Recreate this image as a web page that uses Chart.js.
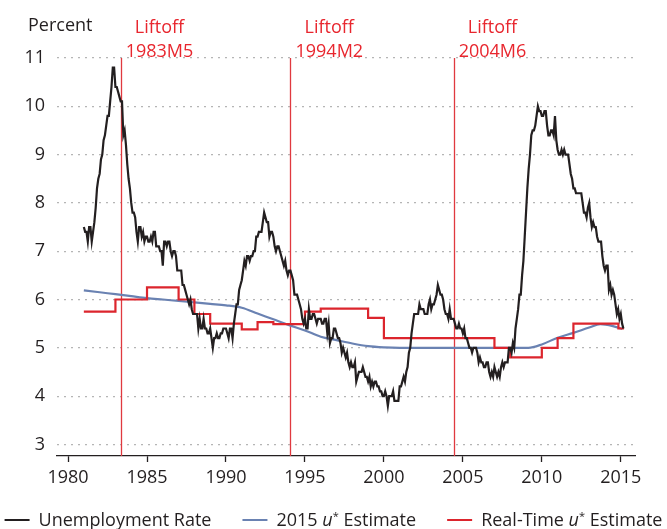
<!DOCTYPE html>
<html>
<head>
<meta charset="utf-8">
<script src="https://cdn.jsdelivr.net/npm/chart.js@4.4.1/dist/chart.umd.min.js"></script>
<style>
  html, body { margin: 0; padding: 0; background: #fff; }
  #wrap { width: 667px; height: 529px; }
</style>
</head>
<body>
<div id="wrap"><canvas id="chart" width="667" height="529"></canvas></div>
<script>
// monthly unemployment rate, first value is 1981M1
const unemploymentStart = 1981;
const unemploymentRate = [
  7.5, 7.4, 7.4, 7.2, 7.5, 7.5, 7.2, 7.4, 7.6, 7.9, 8.3, 8.5,
  8.6, 8.9, 9.0, 9.3, 9.4, 9.6, 9.8, 9.8, 10.1, 10.4, 10.8, 10.8,
  10.4, 10.4, 10.3, 10.2, 10.1, 10.1, 9.4, 9.5, 9.2, 8.8, 8.5, 8.3,
  8.0, 7.8, 7.8, 7.7, 7.4, 7.2, 7.5, 7.5, 7.3, 7.4, 7.2, 7.3,
  7.3, 7.2, 7.2, 7.3, 7.2, 7.4, 7.4, 7.1, 7.1, 7.1, 7.0, 7.0,
  6.7, 7.2, 7.2, 7.1, 7.2, 7.2, 7.0, 6.9, 7.0, 7.0, 6.9, 6.6,
  6.6, 6.6, 6.6, 6.3, 6.3, 6.2, 6.1, 6.0, 5.9, 6.0, 5.8, 5.7,
  5.7, 5.7, 5.7, 5.4, 5.6, 5.4, 5.4, 5.6, 5.4, 5.4, 5.3, 5.3,
  5.4, 5.2, 5.0, 5.2, 5.2, 5.3, 5.2, 5.2, 5.3, 5.3, 5.4, 5.4,
  5.4, 5.3, 5.2, 5.4, 5.4, 5.2, 5.5, 5.7, 5.9, 5.9, 6.2, 6.3,
  6.4, 6.6, 6.8, 6.7, 6.9, 6.9, 6.8, 6.9, 6.9, 7.0, 7.0, 7.3,
  7.3, 7.4, 7.4, 7.4, 7.6, 7.8, 7.7, 7.6, 7.6, 7.3, 7.4, 7.4,
  7.3, 7.1, 7.0, 7.1, 7.1, 7.0, 6.9, 6.8, 6.7, 6.8, 6.6, 6.5,
  6.6, 6.6, 6.5, 6.4, 6.1, 6.1, 6.1, 6.0, 5.9, 5.8, 5.6, 5.5,
  5.6, 5.4, 5.4, 5.8, 5.6, 5.6, 5.7, 5.7, 5.6, 5.5, 5.6, 5.6,
  5.6, 5.5, 5.5, 5.6, 5.6, 5.3, 5.5, 5.1, 5.2, 5.2, 5.4, 5.4,
  5.3, 5.2, 5.2, 5.1, 4.9, 5.0, 4.9, 4.8, 4.9, 4.7, 4.6, 4.7,
  4.6, 4.6, 4.7, 4.3, 4.4, 4.5, 4.5, 4.5, 4.6, 4.5, 4.4, 4.4,
  4.3, 4.4, 4.2, 4.3, 4.2, 4.3, 4.3, 4.2, 4.2, 4.1, 4.1, 4.0,
  4.0, 4.1, 4.0, 3.8, 4.0, 4.0, 4.0, 4.1, 3.9, 3.9, 3.9, 3.9,
  4.2, 4.2, 4.3, 4.4, 4.3, 4.5, 4.6, 4.9, 5.0, 5.3, 5.5, 5.7,
  5.7, 5.7, 5.7, 5.9, 5.8, 5.8, 5.8, 5.7, 5.7, 5.7, 5.9, 6.0,
  5.8, 5.9, 5.9, 6.0, 6.1, 6.3, 6.2, 6.1, 6.1, 6.0, 5.8, 5.7,
  5.7, 5.6, 5.8, 5.6, 5.6, 5.6, 5.5, 5.4, 5.4, 5.5, 5.4, 5.4,
  5.3, 5.4, 5.2, 5.2, 5.1, 5.0, 5.0, 4.9, 5.0, 5.0, 5.0, 4.9,
  4.7, 4.8, 4.7, 4.7, 4.6, 4.6, 4.7, 4.7, 4.5, 4.4, 4.5, 4.4,
  4.6, 4.5, 4.4, 4.5, 4.4, 4.6, 4.7, 4.6, 4.7, 4.7, 4.7, 5.0,
  5.0, 4.9, 5.1, 5.0, 5.4, 5.6, 5.8, 6.1, 6.1, 6.5, 6.8, 7.3,
  7.8, 8.3, 8.7, 9.0, 9.4, 9.5, 9.5, 9.6, 9.8, 10.0, 9.9, 9.9,
  9.8, 9.8, 9.9, 9.9, 9.6, 9.4, 9.4, 9.5, 9.5, 9.4, 9.8, 9.3,
  9.1, 9.0, 9.0, 9.1, 9.0, 9.1, 9.0, 9.0, 9.0, 8.8, 8.6, 8.5,
  8.3, 8.3, 8.2, 8.2, 8.2, 8.2, 8.2, 8.0, 7.8, 7.8, 7.7, 7.9,
  8.0, 7.7, 7.5, 7.6, 7.5, 7.5, 7.3, 7.2, 7.2, 7.2, 6.9, 6.7,
  6.6, 6.7, 6.7, 6.2, 6.3, 6.1, 6.2, 6.1, 5.9, 5.7, 5.8, 5.6,
  5.7, 5.5, 5.4
];

// 2015 u* estimate, read at these dates
const ustar2015Years = [1981, 1982, 1983, 1984, 1985, 1986, 1987, 1988, 1989, 1990, 1991, 1992, 1993, 1994, 1995, 1996, 1997, 1998, 1999, 2000, 2001, 2005, 2009.15, 2010, 2011, 2012, 2013, 2013.7, 2014.5, 2015.1];
const ustar2015Values = [6.19, 6.15, 6.11, 6.07, 6.03, 6.0, 5.97, 5.94, 5.91, 5.88, 5.83, 5.71, 5.59, 5.47, 5.36, 5.23, 5.16, 5.09, 5.035, 5.01, 5.0, 5.0, 5.0, 5.07, 5.21, 5.31, 5.42, 5.49, 5.45, 5.39];

// real-time u* estimate: each value holds from its date until the next date
const realTimeYears = [1981, 1983, 1985, 1987, 1988, 1989, 1991, 1992, 1993, 1995, 1996, 1999, 2000, 2007, 2008, 2010, 2011, 2012, 2014.85, 2015.2];
const realTimeValues = [5.75, 6.0, 6.25, 6.0, 5.7, 5.5, 5.38, 5.53, 5.49, 5.75, 5.81, 5.62, 5.2, 5.0, 4.8, 5.0, 5.2, 5.5, 5.4, 5.4];

const liftoffLabels = ['1983M5', '1994M2', '2004M6'];
const liftoffDates = [1983 + 4 / 12, 1994 + 1 / 12, 2004 + 5 / 12];

const seriesNames = ['Unemployment Rate', '2015 u* Estimate', 'Real-Time u* Estimate'];
const yTicks = [3, 4, 5, 6, 7, 8, 9, 10, 11];
const xTicks = [1980, 1985, 1990, 1995, 2000, 2005, 2010, 2015];

const BLACK = '#231f20';
const BLUE = '#6a82b2';
const RED = '#dc252d';
const FONT = '"Open Sans", "DejaVu Sans", sans-serif';
const FSIZE = 18;

const unemploymentPoints = unemploymentRate.map((v, i) => ({ x: unemploymentStart + i / 12, y: v }));
const ustarPoints = ustar2015Years.map((yr, i) => ({ x: yr, y: ustar2015Values[i] }));
const realTimePoints = realTimeYears.map((yr, i) => ({ x: yr, y: realTimeValues[i] }));

// draws a legend label, "u" in italics and "*" raised
function drawRich(ctx, text, x, y, measureOnly) {
  let cx = x;
  const parts = text.split(/(u\*)/);
  for (const p of parts) {
    if (p === 'u*') {
      ctx.font = 'italic ' + FSIZE + 'px ' + FONT;
      if (!measureOnly) ctx.fillText('u', cx, y);
      cx += ctx.measureText('u').width;
      ctx.font = (FSIZE - 7) + 'px ' + FONT;
      if (!measureOnly) ctx.fillText('*', cx, y - 6);
      cx += ctx.measureText('*').width;
    } else if (p) {
      ctx.font = FSIZE + 'px ' + FONT;
      if (!measureOnly) ctx.fillText(p, cx, y);
      cx += ctx.measureText(p).width;
    }
  }
  return cx - x;
}

const extras = {
  id: 'extras',
  beforeDatasetsDraw(chart) {
    const { ctx, chartArea, scales: { x } } = chart;
    ctx.save();
    ctx.strokeStyle = '#e0393f';
    ctx.lineWidth = 1.3;
    liftoffDates.forEach(d => {
      const px = Math.round(x.getPixelForValue(d)) + 0.5;
      ctx.beginPath();
      ctx.moveTo(px, chartArea.top);
      ctx.lineTo(px, chartArea.bottom);
      ctx.stroke();
    });
    ctx.restore();
  },
  afterDraw(chart) {
    const { ctx, scales: { x } } = chart;
    ctx.save();
    ctx.textBaseline = 'alphabetic';
    ctx.font = FSIZE + 'px ' + FONT;

    // axis title
    ctx.fillStyle = BLACK;
    ctx.textAlign = 'left';
    ctx.fillText('Percent', 28, 31);

    // liftoff labels
    ctx.fillStyle = '#e8262e';
    liftoffDates.forEach((d, i) => {
      const px = x.getPixelForValue(d);
      const w = ctx.measureText(liftoffLabels[i]).width;
      const cx = px + 5 + w / 2;
      ctx.textAlign = 'center';
      ctx.fillText('Liftoff', cx, 33);
      ctx.fillText(liftoffLabels[i], cx, 57);
    });

    // legend
    ctx.textAlign = 'left';
    const colors = [BLACK, BLUE, RED];
    const lineLen = 25, textGap = 9, itemGap = 31, ly = 526;
    const widths = seriesNames.map(n => lineLen + textGap + drawRich(ctx, n, 0, 0, true));
    const total = widths.reduce((a, b) => a + b, 0) + itemGap * (widths.length - 1);
    let lx = (chart.width - total) / 2;
    seriesNames.forEach((n, i) => {
      ctx.strokeStyle = colors[i];
      ctx.lineWidth = 2;
      ctx.beginPath();
      ctx.moveTo(lx, ly - 6);
      ctx.lineTo(lx + lineLen, ly - 6);
      ctx.stroke();
      ctx.fillStyle = BLACK;
      drawRich(ctx, n, lx + lineLen + textGap, ly, false);
      lx += widths[i] + itemGap;
    });
    ctx.restore();
  }
};

new Chart(document.getElementById('chart').getContext('2d'), {
  type: 'line',
  data: {
    datasets: [
      {
        label: seriesNames[0],
        data: unemploymentPoints,
        borderColor: BLACK,
        borderWidth: 2.2,
        pointRadius: 0,
        tension: 0
      },
      {
        label: seriesNames[2],
        data: realTimePoints,
        borderColor: RED,
        borderWidth: 2.2,
        pointRadius: 0,
        stepped: 'before'
      },
      {
        label: seriesNames[1],
        data: ustarPoints,
        borderColor: BLUE,
        borderWidth: 2.2,
        pointRadius: 0,
        cubicInterpolationMode: 'monotone'
      }
    ]
  },
  options: {
    responsive: false,
    animation: false,
    layout: { padding: { top: 58, right: 32, bottom: 33, left: 0 } },
    plugins: {
      legend: { display: false },
      tooltip: { enabled: false }
    },
    scales: {
      x: {
        type: 'linear',
        min: 1979.3,
        max: 2015.9,
        afterBuildTicks: s => { s.ticks = xTicks.map(v => ({ value: v })); },
        afterFit: s => { s.height = 40; },
        grid: { drawOnChartArea: false, drawTicks: true, tickLength: 6, tickColor: BLACK, tickWidth: 1.3 },
        border: { display: true, color: BLACK, width: 1.3 },
        ticks: {
          padding: 5,
          color: BLACK,
          font: { family: FONT, size: FSIZE },
          maxRotation: 0,
          autoSkip: false,
          callback: v => String(v)
        }
      },
      y: {
        min: 2.76,
        max: 11,
        afterBuildTicks: s => { s.ticks = yTicks.map(v => ({ value: v })); },
        afterFit: s => { s.width = 57; },
        grid: { color: '#b5b5b5', lineWidth: 1.2, drawTicks: false },
        border: { display: false, dash: [2, 5] },
        ticks: {
          padding: 12,
          color: BLACK,
          font: { family: FONT, size: FSIZE }
        }
      }
    }
  },
  plugins: [extras]
});
</script>
</body>
</html>
